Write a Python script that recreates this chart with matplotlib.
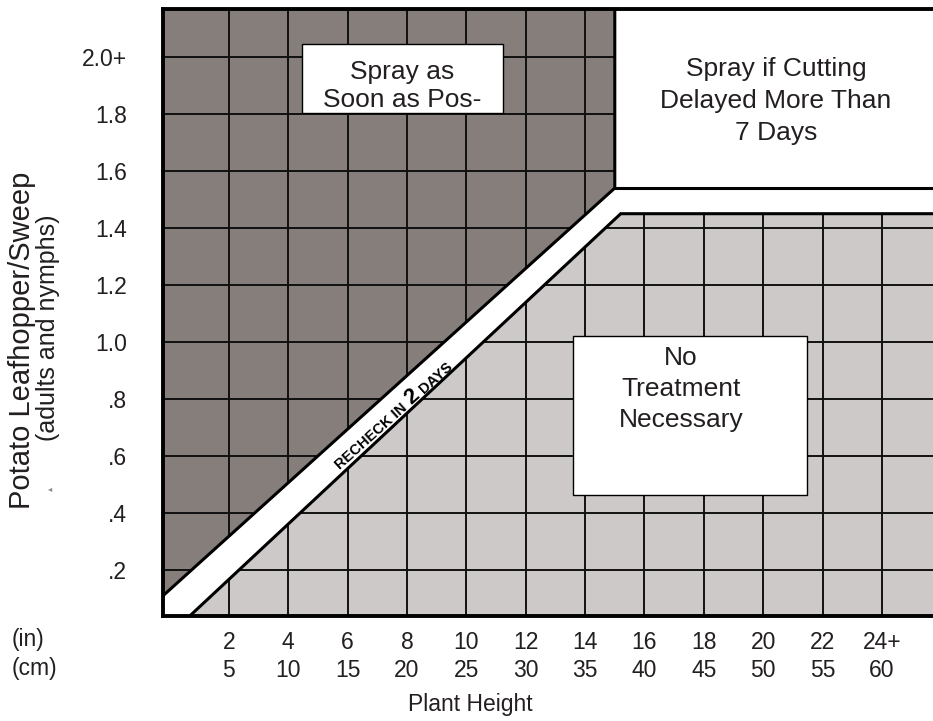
import numpy as np
import matplotlib.pyplot as plt
from matplotlib.patches import Polygon, Rectangle

plt.rcParams['font.family'] = ['Liberation Sans', 'DejaVu Sans']

# plant height axis (inches, with cm underneath)
inch_ticks = [2, 4, 6, 8, 10, 12, 14, 16, 18, 20, 22, 24]
inch_labels = ['2', '4', '6', '8', '10', '12', '14', '16', '18', '20', '22', '24+']
cm_labels = ['5', '10', '15', '20', '25', '30', '35', '40', '45', '50', '55', '60']

# leafhoppers per sweep
count_ticks = [0.2, 0.4, 0.6, 0.8, 1.0, 1.2, 1.4, 1.6, 1.8, 2.0]
count_labels = ['.2', '.4', '.6', '.8', '1.0', '1.2', '1.4', '1.6', '1.8', '2.0+']

# threshold lines: above spray line -> spray, below recheck line -> no treatment
spray_x = [-0.22, 15.0]
spray_y = [0.11, 1.54]
notreat_x = [0.69, 15.2]
notreat_y = [0.04, 1.45]

x_min, x_max = -0.22, 25.72
y_min, y_max = 0.039, 2.168

dark = '#867e7b'
light = '#cdc9c8'
txt = '#231f20'

fig = plt.figure(figsize=(9.33, 7.21), dpi=100)
ax = fig.add_axes([163 / 933, 1 - 616 / 721, 770 / 933, 607 / 721])
ax.set_xlim(x_min, x_max)
ax.set_ylim(y_min, y_max)

# shaded zones
spray_zone = Polygon([(spray_x[0], spray_y[0]), (spray_x[1], spray_y[1]),
                      (spray_x[1], y_max), (x_min, y_max)],
                     closed=True, fc=dark, ec='none', zorder=1)
ok_zone = Polygon([(notreat_x[0], notreat_y[0]), (notreat_x[1], notreat_y[1]),
                   (x_max, notreat_y[1]), (x_max, y_min), (notreat_x[0], y_min)],
                  closed=True, fc=light, ec='none', zorder=1)
ax.add_patch(spray_zone)
ax.add_patch(ok_zone)

# grid only inside the shaded zones
for zone in (spray_zone, ok_zone):
    v = ax.vlines(inch_ticks, y_min, y_max, colors='#111111', lw=1.4, zorder=2)
    h = ax.hlines(count_ticks, x_min, x_max, colors='#111111', lw=1.4, zorder=2)
    v.set_clip_path(zone)
    h.set_clip_path(zone)

# zone borders
ax.plot([spray_x[0], spray_x[1], spray_x[1]], [spray_y[0], spray_y[1], y_max],
        color='black', lw=2.2, zorder=3, solid_joinstyle='miter')
ax.plot([spray_x[1], x_max], [spray_y[1], spray_y[1]], color='black', lw=2.2, zorder=3)
ax.plot([notreat_x[0], notreat_x[1], x_max], [notreat_y[0], notreat_y[1], notreat_y[1]],
        color='black', lw=2.2, zorder=3, solid_joinstyle='miter')

# label boxes
ax.add_patch(Rectangle((4.46, 1.804), 6.77, 0.242, fc='white', ec='black', lw=1.0, zorder=4))
ax.text(7.83, 1.898, 'Spray as\nSoon as Pos-', ha='center', va='center', fontsize=19,
        color=txt, linespacing=1.26, zorder=5)

ax.add_patch(Rectangle((13.59, 0.463), 7.89, 0.558, fc='white', ec='black', lw=1.0, zorder=4))
ax.text(17.23, 0.834, 'No\nTreatment\nNecessary', ha='center', va='center', fontsize=19,
        color=txt, linespacing=1.37, zorder=5)

ax.text(20.43, 1.845, 'Spray if Cutting\nDelayed More Than\n7 Days', ha='center', va='center',
        fontsize=19, color=txt, linespacing=1.41, zorder=5)

# "RECHECK IN 2 DAYS" along the band
ang = 42
ca, sa = np.cos(np.radians(ang)), np.sin(np.radians(ang))
bx, by = 8.30, 0.793
for s, off, ha, fs in [('RECHECK IN', -11, 'right', 10.5), ('2', 0, 'center', 16), ('DAYS', 11, 'left', 10.5)]:
    ax.annotate(s, xy=(bx, by), xytext=(off * ca * 0.72, off * sa * 0.72),
                textcoords='offset points', rotation=ang, rotation_mode='anchor',
                ha=ha, va='baseline', fontsize=fs, fontweight='bold', color='black', zorder=5)

# frame
for side in ('left', 'bottom', 'top'):
    ax.spines[side].set_linewidth(2.8)
    ax.spines[side].set_zorder(6)
ax.spines['right'].set_visible(False)

ax.set_xticks(inch_ticks)
ax.set_xticklabels([f'{a}\n{b}' for a, b in zip(inch_labels, cm_labels)])
ax.set_yticks(count_ticks)
ax.set_yticklabels(count_labels)
ax.tick_params(axis='x', length=0, pad=10.5, labelsize=16.5, labelcolor=txt)
ax.tick_params(axis='y', length=0, pad=26, labelsize=16.5, labelcolor=txt)
for lab in ax.get_xticklabels():
    lab.set_linespacing(1.32)

fig.text(12 / 933, 1 - 654 / 721, '(in)\n(cm)', ha='left', va='center', fontsize=16.5,
         color=txt, linespacing=1.32)
fig.text(470 / 933, 1 - 705 / 721, 'Plant Height', ha='center', va='center', fontsize=16.5, color=txt)
fig.text(22 / 933, 1 - 340 / 721, 'Potato Leafhopper/Sweep', rotation=90, ha='center',
         va='center', fontsize=21, color=txt)
fig.text(48 / 933, 1 - 328 / 721, '(adults and nymphs)', rotation=90, ha='center',
         va='center', fontsize=18, color=txt)
fig.text(50 / 933, 1 - 489 / 721, '\u25c2', ha='center', va='center', fontsize=6,
         color='#888888', family=['DejaVu Sans'])

fig.savefig('out.png', dpi=100)
